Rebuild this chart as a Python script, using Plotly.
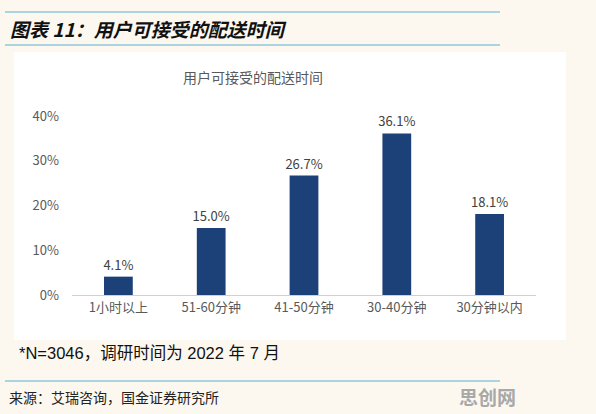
import plotly.graph_objects as go

categories = ["1小时以上", "51-60分钟", "41-50分钟", "30-40分钟", "30分钟以内"]
values = [4.1, 15.0, 26.7, 36.1, 18.1]
y_ticks = [0, 10, 20, 30, 40]
y_tick_labels = ["0%", "10%", "20%", "30%", "40%"]

W, H = 596, 414
L, R, T, B = 72, 60, 116, 119
PW, PH = W - L - R, H - T - B


def fx(px):
    return (px - L) / PW


def fy(py):
    return (H - B - py) / PH


font = "Noto Sans CJK SC, Noto Sans, sans-serif"

fig = go.Figure()
fig.add_trace(go.Bar(
    x=categories, y=values,
    marker=dict(color="#1c4178", line=dict(width=0)),
    text=[f"{v:.1f}%" for v in values],
    textposition="outside",
    constraintext="none",
    textfont=dict(size=13, color="#404040", family=font),
    cliponaxis=False,
))

shapes = [
    # white chart panel
    dict(type="rect", xref="paper", yref="paper", x0=fx(14), x1=fx(566), y0=fy(340), y1=fy(52),
         fillcolor="#ffffff", line=dict(width=0), layer="below"),
    # header / footer lines
    dict(type="line", xref="paper", yref="paper", x0=fx(5), x1=fx(500), y0=fy(12), y1=fy(12),
         line=dict(color="#5aaed0", width=1.2)),
    dict(type="line", xref="paper", yref="paper", x0=fx(5), x1=fx(500), y0=fy(45), y1=fy(45),
         line=dict(color="#5aaed0", width=1.2)),
    dict(type="line", xref="paper", yref="paper", x0=fx(5), x1=fx(500), y0=fy(381), y1=fy(381),
         line=dict(color="#5aaed0", width=1.2)),
]

annotations = [
    dict(text="<b><i>图表 11：用户可接受的配送时间</i></b>", xref="paper", yref="paper",
         x=fx(8), y=fy(29), xanchor="left", yanchor="middle", showarrow=False,
         font=dict(size=19, color="#111111", family=font)),
    dict(text="用户可接受的配送时间", xref="paper", yref="paper",
         x=fx(253), y=fy(77), xanchor="center", yanchor="middle", showarrow=False,
         font=dict(size=14, color="#595959", family=font)),
    dict(text="*N=3046，调研时间为 2022 年 7 月", xref="paper", yref="paper",
         x=fx(17), y=fy(353), xanchor="left", yanchor="middle", showarrow=False,
         font=dict(size=16.5, color="#111111", family="Liberation Sans, Noto Sans CJK SC")),
    dict(text="来源：艾瑞咨询，国金证券研究所", xref="paper", yref="paper",
         x=fx(7), y=fy(397), xanchor="left", yanchor="middle", showarrow=False,
         font=dict(size=14, color="#222222", family=font)),
    dict(text="<b>思创网</b>", xref="paper", yref="paper",
         x=fx(518), y=fy(396), xanchor="right", yanchor="middle", showarrow=False,
         font=dict(size=19, color="#a8a8a8", family=font)),
]

fig.update_layout(
    width=W, height=H,
    margin=dict(l=L, r=R, t=T, b=B),
    paper_bgcolor="#fcf8f0",
    plot_bgcolor="#ffffff",
    bargap=0.69,
    showlegend=False,
    shapes=shapes,
    annotations=annotations,
    font=dict(family=font),
    xaxis=dict(
        showgrid=False, showline=True, linecolor="#d0d0d0", linewidth=1,
        ticks="", tickfont=dict(size=13, color="#595959", family=font),
    ),
    yaxis=dict(
        range=[0, 40], tickvals=y_ticks, ticktext=y_tick_labels,
        showgrid=False, showline=False, zeroline=False, ticks="",
        ticklabelstandoff=12,
        tickfont=dict(size=13, color="#595959", family=font),
    ),
)

fig.write_html(
    "out.html",
    config={"displayModeBar": False},
    post_script="document.body.style.margin='0';document.body.style.background='#fcf8f0';",
)
